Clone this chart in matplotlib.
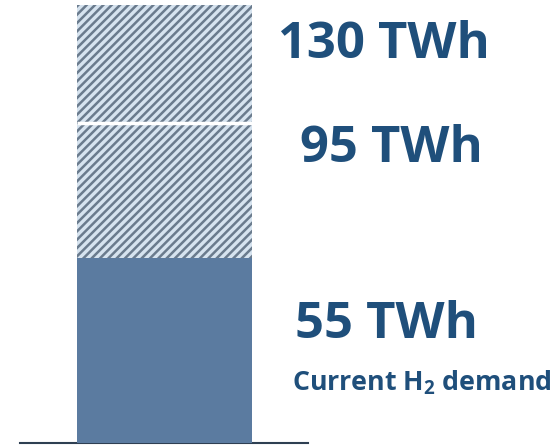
import numpy as np
import matplotlib.pyplot as plt

# H2 demand levels (TWh)
segment_bottoms = [0, 55, 95]
segment_tops = [55, 95, 130]
labels = ["55 TWh", "95 TWh", "130 TWh"]
note = "Current H$_2$ demand"

plt.rcParams["hatch.linewidth"] = 1.8
plt.rcParams["mathtext.fontset"] = "custom"
plt.rcParams["mathtext.rm"] = "Open Sans:bold"
plt.rcParams["mathtext.it"] = "Open Sans:bold"
plt.rcParams["mathtext.bf"] = "Open Sans:bold"

fig = plt.figure(figsize=(5.58, 4.48), dpi=100)
ax = fig.add_axes([0, 0, 1, 1])

solid = "#5b7ba0"
hatch_bg = "#d6e3ef"
hatch_col = "#6a7b8d"
txt_col = "#1f4f7b"

heights = np.array(segment_tops) - np.array(segment_bottoms)

# baseline
ax.axhline(0, xmin=20 / 558, xmax=308 / 558, color="#2e3f52", lw=1.5, zorder=1)

# current demand: solid
ax.bar(0, heights[0], bottom=segment_bottoms[0], width=1, color=solid, lw=0, zorder=2)
# future demand: hatched
ax.bar(0, heights[1:], bottom=segment_bottoms[1:], width=1, facecolor=hatch_bg,
       edgecolor=hatch_col, hatch="////", lw=0, zorder=2)
# white separator between hatched segments
ax.hlines(segment_bottoms[2], -0.5, 0.5, color="white", lw=2.5, zorder=3)

ax.set_xlim(-0.94, 2.249)
ax.set_ylim(-1.48, 131.48)
ax.axis("off")

font = dict(family="Open Sans", weight="bold", color=txt_col)
fig.text(278 / 558, 1 - 58 / 448, labels[2], fontsize=36.5, ha="left", va="baseline", **font)
fig.text(300 / 558, 1 - 162 / 448, labels[1], fontsize=36.5, ha="left", va="baseline", **font)
fig.text(295 / 558, 1 - 338 / 448, labels[0], fontsize=36.5, ha="left", va="baseline", **font)
fig.text(292 / 558, 1 - 390 / 448, note, fontsize=19.3, ha="left", va="baseline", **font)

fig.savefig("out.png", dpi=100)
